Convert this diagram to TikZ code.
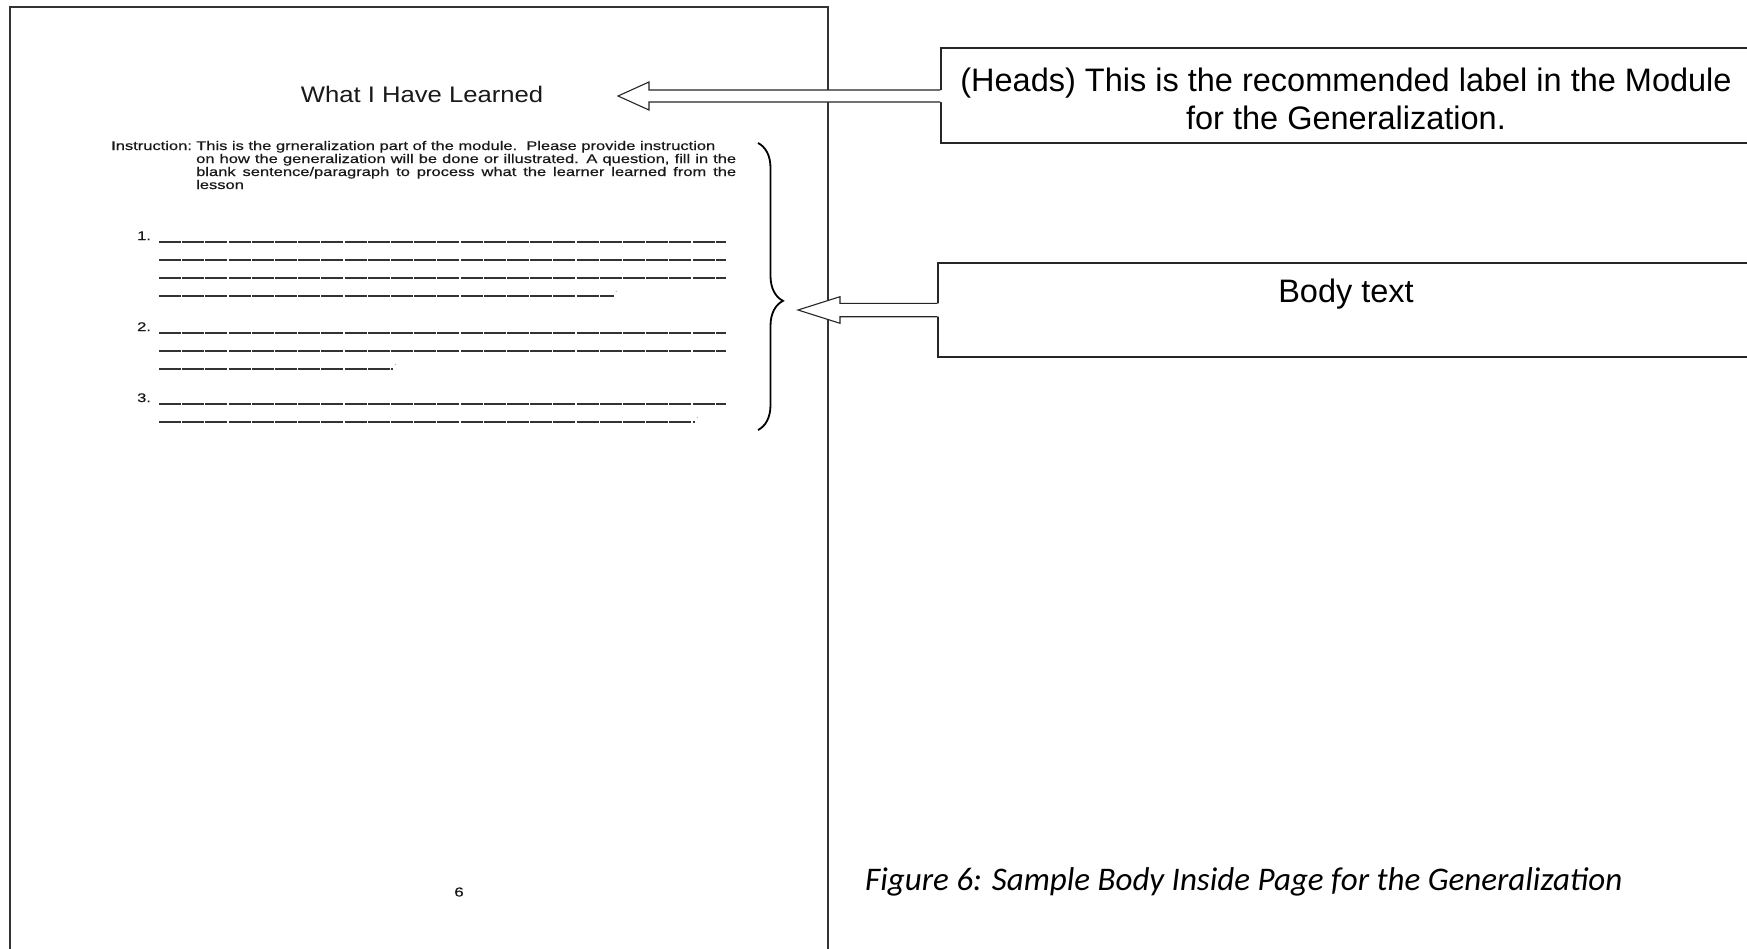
\documentclass[tikz,border=0pt]{standalone}
\usepackage{fontspec}
\setmainfont{Liberation Sans}
\newfontfamily\docfont[FakeStretch=1.14]{Liberation Sans}
\newfontfamily\widefont[FakeStretch=1.32,FakeBold=0.5]{Liberation Sans}
\newfontfamily\capfont{Carlito}
\usetikzlibrary{decorations.pathreplacing,calc}

\tikzset{
  pageframe/.style={draw=black!80, line width=1.4pt},
  callout/.style={draw=black!85, line width=1.4pt, fill=white, rectangle, inner sep=0pt},
  calloutlabel/.style={inner sep=0pt, anchor=base, font=\fontsize{32.5}{38}\selectfont},
  arrowfill/.style={fill=white},
  arrowline/.style={draw=black!85, line width=1.1pt, line join=miter},
  blankline/.style={draw=black!80, line width=2pt, dash pattern=on 22pt off 1.2pt},
  pagetext/.style={inner sep=0pt, anchor=base west, text=black!90,
    font=\widefont\fontsize{12.5}{14}\selectfont},
  bracestyle/.style={draw=black, line width=1.8pt, decorate,
    decoration={brace, amplitude=25pt, aspect=0.55}},
}

\begin{document}
\begin{tikzpicture}[x=1pt,y=-1pt]
\useasboundingbox (0,0) rectangle (1747,948);
\clip (0,0) rectangle (1747,948);
\fill[white] (0,0) rectangle (1747,948);

% outline of the sample page
\draw[pageframe] (10,960) -- (10,7) -- (828,7) -- (828,960);

% page heading
\node[inner sep=0pt, anchor=base, text=black!90] (title) at (422,102)
  {\docfont\fontsize{22.5}{27}\selectfont What I Have Learned};

% instruction paragraph with hanging indent
\node[pagetext] (instrlabel) at (111,150) {Instruction:};
\node[pagetext] (instr1) at (196,150) {This is the grneralization part of the module.\ \ Please provide instruction};
\node[pagetext] (instr2) at (196,163) {\makebox[540pt][s]{on how the generalization will be done or illustrated. A question, fill in the}};
\node[pagetext] (instr3) at (196,176) {\makebox[540pt][s]{blank sentence/paragraph to process what the learner learned from the}};
\node[pagetext] (instr4) at (196,189) {lesson};

% numbered blanks
\node[pagetext] (num1) at (137,240) {1.};
\node[pagetext] (num2) at (137,331) {2.};
\node[pagetext] (num3) at (137,402) {3.};
\foreach \yy in {242,260,278} \draw[blankline] (159,\yy) -- (726,\yy);
\draw[blankline] (159,296) -- (614,296);
\foreach \yy in {333,351} \draw[blankline] (159,\yy) -- (726,\yy);
\draw[blankline] (159,369) -- (393,369);
\draw[blankline] (159,404) -- (726,404);
\draw[blankline] (159,422) -- (695,422);
\node[pagetext, font=\docfont\fontsize{8}{9}\selectfont, text=black!50] (dot1) at (615,292) {.};
\node[pagetext, font=\docfont\fontsize{8}{9}\selectfont, text=black!50] (dot2) at (394,365) {.};
\node[pagetext, font=\docfont\fontsize{8}{9}\selectfont, text=black!50] (dot3) at (696,418) {.};

% page number
\node[inner sep=0pt, text=black!90] (pagenum) at (459,892)
  {\widefont\fontsize{13}{16}\selectfont 6};

% brace grouping the body of the page
\coordinate (bracetop) at (758,143);
\coordinate (bracebot) at (758,430);
\draw[bracestyle] (bracetop) -- (bracebot);

% callout boxes (their right side runs past the edge)
\node[callout, minimum width=810pt, minimum height=95pt] (headsbox) at (1346,95.5) {};
\node[calloutlabel] (headsline1) at (1346,91) {(Heads) This is the recommended label in the Module};
\node[calloutlabel] (headsline2) at (1346,129) {for the Generalization.};
\node[callout, minimum width=816pt, minimum height=94pt] (bodybox) at (1346,310) {};
\node[calloutlabel] (bodylabel) at (1346,302) {Body text};

% block arrows from the callouts
\coordinate (headstip) at (618,96);
\coordinate (bodytip) at (798,310);

\fill[arrowfill] let \p1=(headstip), \p2=(headsbox.west) in
  (\x2+1.5pt,\y1+6pt) -- (\x1+31pt,\y1+6pt) -- (\x1+31pt,\y1+14pt) -- (\p1)
  -- (\x1+31pt,\y1-14pt) -- (\x1+31pt,\y1-6pt) -- (\x2+1.5pt,\y1-6pt) -- cycle;
\draw[arrowline] let \p1=(headstip), \p2=(headsbox.west) in
  (\x2,\y1+6pt) -- (\x1+31pt,\y1+6pt) -- (\x1+31pt,\y1+14pt) -- (\p1)
  -- (\x1+31pt,\y1-14pt) -- (\x1+31pt,\y1-6pt) -- (\x2,\y1-6pt);

\fill[arrowfill] let \p1=(bodytip), \p2=(bodybox.west) in
  (\x2+1.5pt,\y1+6.7pt) -- (\x1+42pt,\y1+6.7pt) -- (\x1+42pt,\y1+13.3pt) -- (\p1)
  -- (\x1+42pt,\y1-13.3pt) -- (\x1+42pt,\y1-6.7pt) -- (\x2+1.5pt,\y1-6.7pt) -- cycle;
\draw[arrowline] let \p1=(bodytip), \p2=(bodybox.west) in
  (\x2,\y1+6.7pt) -- (\x1+42pt,\y1+6.7pt) -- (\x1+42pt,\y1+13.3pt) -- (\p1)
  -- (\x1+42pt,\y1-13.3pt) -- (\x1+42pt,\y1-6.7pt) -- (\x2,\y1-6.7pt);

% figure caption
\node[inner sep=0pt, anchor=base west] (caption) at (865,890)
  {\capfont\itshape\fontsize{33}{40}\selectfont Figure 6: Sample Body Inside Page for the Generalization};
\end{tikzpicture}
\end{document}
